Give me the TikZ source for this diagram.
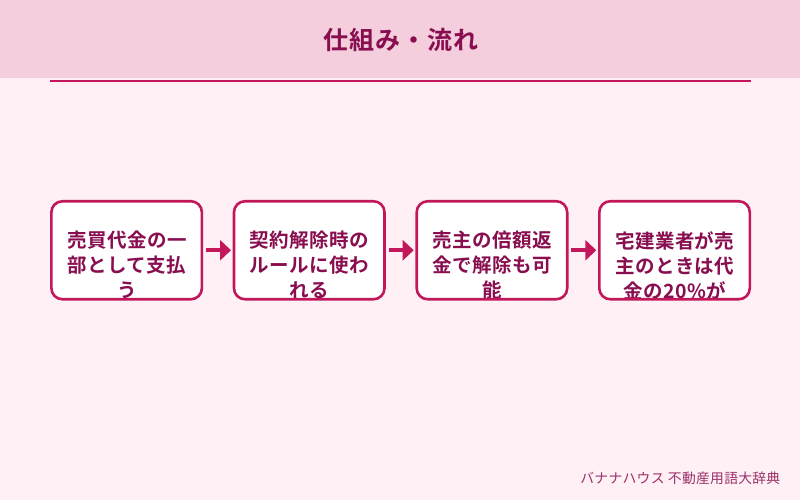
\documentclass[tikz,border=0pt]{standalone}
\usepackage{fontspec}
\usetikzlibrary{arrows.meta}
\setmainfont[BoldFont={Noto Sans CJK JP Bold},LetterSpace=4]{Noto Sans CJK JP}
\newfontfamily\boxfont[BoldFont={Noto Sans CJK JP Bold},LetterSpace=2.5]{Noto Sans CJK JP}
\newfontfamily\footfont[LetterSpace=2]{Noto Sans CJK JP}
\definecolor{pagebg}{HTML}{FFF0F5}
\definecolor{bandbg}{HTML}{F5CEDD}
\definecolor{accent}{HTML}{C2185B}
\definecolor{inkdark}{HTML}{880E4F}
\tikzset{
  x=1pt,y=-1pt,
  cardfill/.style={draw=none,fill=white,rounded corners=11pt,minimum width=150.5pt,minimum height=98pt,inner sep=0pt,outer sep=0pt,anchor=north west},
  cardline/.style={draw=accent,line width=2.6pt,rounded corners=11pt,minimum width=150.5pt,minimum height=98pt,inner sep=0pt,outer sep=0pt,anchor=north west},
  cardtext/.style={text=inkdark,align=center,font=\boxfont\fontsize{19.5}{25}\selectfont\bfseries,inner sep=0pt,anchor=north,text width=150pt},
  flow/.style={draw=accent,line width=4pt,-{Triangle[length=11pt,width=20pt]}},
}
\begin{document}
\begin{tikzpicture}
\useasboundingbox (0,0) rectangle (800,500);
\fill[pagebg] (0,0) rectangle (800,500);
\fill[bandbg] (0,0) rectangle (800,78);
\draw[accent,line width=2pt] (50,81) -- (750.7,81);
\node[text=inkdark,font=\fontsize{25}{30}\selectfont\bfseries,inner sep=0pt] (title) at (400.5,40) {仕組み・流れ};
\node[cardfill] (f1) at (51.4,201.25) {};
\node[cardfill] (f2) at (234,201.25) {};
\node[cardfill] (f3) at (416.7,201.25) {};
\node[cardfill] (f4) at (599.3,201.25) {};
\begin{scope}
\clip[rounded corners=11pt] (f1.north west) rectangle (f1.south east);
\node[cardtext] (t1) at ([xshift=.2pt]f1.north |- 0,231) {売買代金の一\\部として支払\\う};
\end{scope}
\begin{scope}
\clip[rounded corners=11pt] (f2.north west) rectangle (f2.south east);
\node[cardtext] (t2) at ([xshift=.2pt]f2.north |- 0,231) {契約解除時の\\ルールに使わ\\れる};
\end{scope}
\begin{scope}
\clip[rounded corners=11pt] (f3.north west) rectangle (f3.south east);
\node[cardtext] (t3) at ([xshift=.2pt]f3.north |- 0,231) {売主の倍額返\\金で解除も可\\能};
\end{scope}
\begin{scope}
\clip[rounded corners=11pt] (f4.north west) rectangle (f4.south east);
\node[cardtext] (t4) at ([xshift=.2pt]f4.north |- 0,231) {宅建業者が売\\主のときは代\\金の20\%が};
\end{scope}
\node[cardline] (b1) at (51.4,201.25) {};
\node[cardline] (b2) at (234,201.25) {};
\node[cardline] (b3) at (416.7,201.25) {};
\node[cardline] (b4) at (599.3,201.25) {};
\draw[flow] ([xshift=4.2pt]b1.east) -- ([xshift=-3pt]b2.west);
\draw[flow] ([xshift=4.2pt]b2.east) -- ([xshift=-3pt]b3.west);
\draw[flow] ([xshift=4.2pt]b3.east) -- ([xshift=-3pt]b4.west);
\node[text=inkdark,opacity=.85,font=\footfont\fontsize{13.8}{16}\selectfont,inner sep=0pt,anchor=east] (foot) at (780.5,478.5) {バナナハウス 不動産用語大辞典};
\end{tikzpicture}
\end{document}
